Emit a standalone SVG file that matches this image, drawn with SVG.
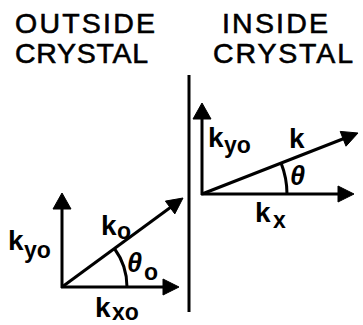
<svg xmlns="http://www.w3.org/2000/svg" width="363" height="325" viewBox="0 0 363 325">
<style>
.ln{stroke:#000;stroke-width:3;fill:none;stroke-linecap:butt}
.ah{fill:#000;stroke:#000;stroke-width:1;stroke-linejoin:round}
.title{font-family:"Liberation Sans",Arial,sans-serif;font-size:28.5px;fill:#000;stroke:#000;stroke-width:0.6}
.lb{font-family:"Liberation Sans",Arial,sans-serif;font-weight:bold;font-size:28px;fill:#000}
.sb{font-family:"Liberation Sans",Arial,sans-serif;font-weight:bold;font-size:23px;fill:#000}
.th{font-family:"Liberation Sans",Arial,sans-serif;font-style:italic;font-weight:bold;font-size:27px;fill:#000}
</style>
<rect width="363" height="325" fill="#fff"/>
<g id="titles">
<text class="title" x="15" y="33" textLength="140" lengthAdjust="spacing">OUTSIDE</text>
<text class="title" x="15" y="63" textLength="133" lengthAdjust="spacing">CRYSTAL</text>
<text class="title" x="222" y="33" textLength="106" lengthAdjust="spacing">INSIDE</text>
<text class="title" x="213" y="63" textLength="140" lengthAdjust="spacing">CRYSTAL</text>
</g>
<g id="boundary">
<line class="ln" x1="189" y1="75" x2="189" y2="312"/>
</g>
<g id="connectors">
<line class="ln" x1="62" y1="288" x2="62" y2="207"/>
<polygon class="ah" points="62,193 53,209 71,209"/>
<line class="ln" x1="61" y1="287" x2="165" y2="287"/>
<polygon class="ah" points="179,287 163,279 163,295"/>
<line class="ln" x1="62" y1="287" x2="171" y2="207"/>
<polygon class="ah" points="183,198 174.8,213.9 165.4,201.1"/>
<path class="ln" d="M127,287 A65,65 0 0 0 114.4,248.5"/>
<line class="ln" x1="202" y1="195" x2="202" y2="118"/>
<polygon class="ah" points="202,103 193,119 211,119"/>
<line class="ln" x1="201" y1="194" x2="339" y2="194"/>
<polygon class="ah" points="354,194 338,186 338,202"/>
<line class="ln" x1="202" y1="194" x2="344" y2="138.5"/>
<polygon class="ah" points="358,133 346,146.2 340.2,131.4"/>
<path class="ln" d="M287,194 A85,85 0 0 0 281.1,163.1"/>
</g>
<g id="labels-outside">
<text class="lb" x="8" y="250">k</text><text class="sb" x="24" y="258">yo</text>
<text class="lb" x="101" y="235">k</text><text class="sb" x="117" y="239">o</text>
<text class="th" x="127" y="272">θ</text><text class="sb" x="144" y="280">o</text>
<text class="lb" x="95" y="317">k</text><text class="sb" x="112" y="320">xo</text>
</g>
<g id="labels-inside">
<text class="lb" x="208" y="147">k</text><text class="sb" x="224" y="153">yo</text>
<text class="lb" x="289" y="148">k</text>
<text class="th" x="290" y="185">θ</text>
<text class="lb" x="255" y="222">k</text><text class="sb" x="273" y="228">x</text>
</g>
</svg>
